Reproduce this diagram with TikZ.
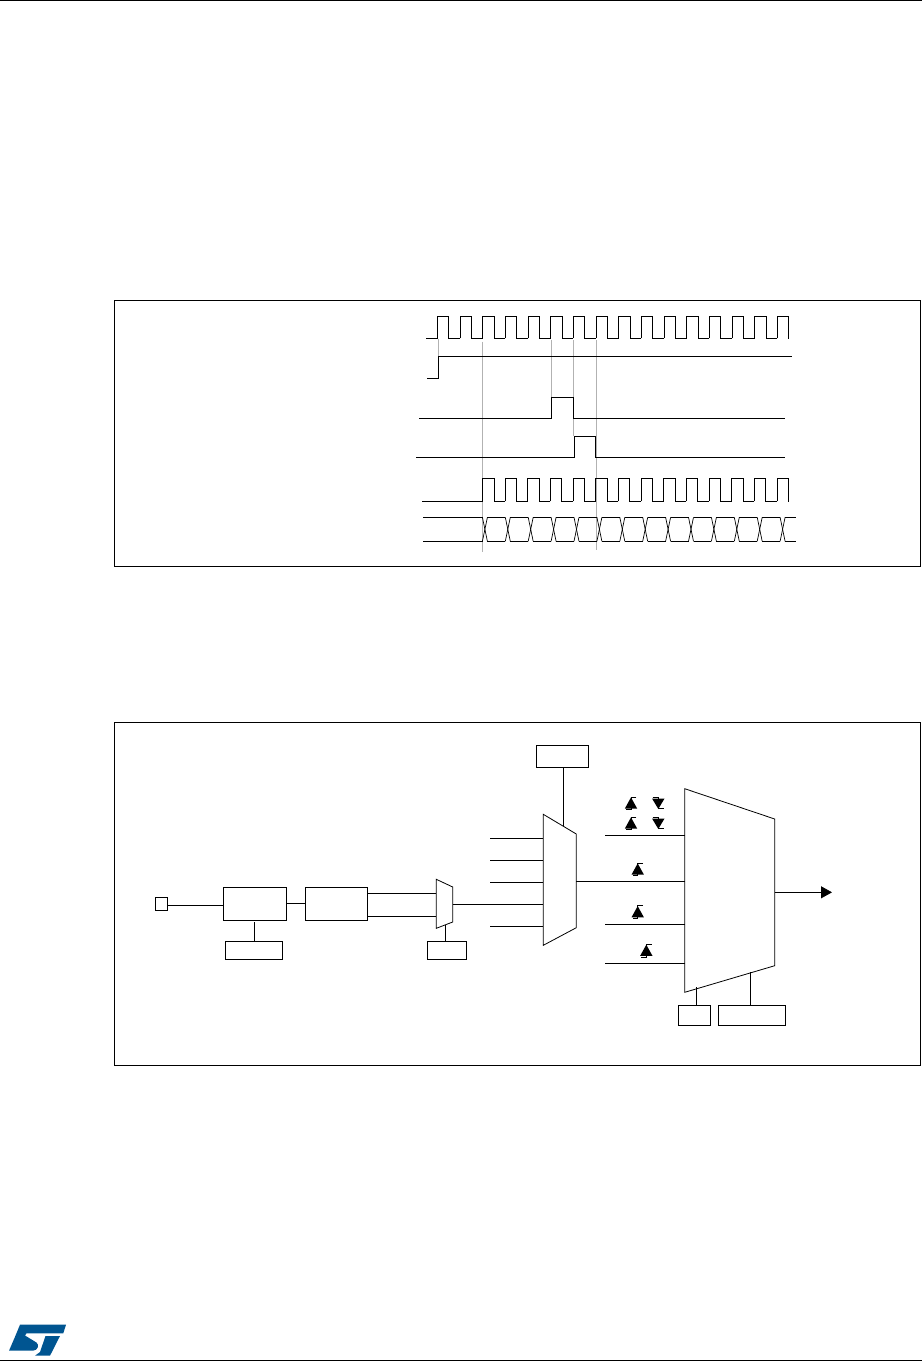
\documentclass[tikz,border=0pt]{standalone}
\usepackage{tikz}
\usetikzlibrary{arrows.meta}
\definecolor{stblue}{RGB}{0,85,145}
\tikzset{
  wire/.style={line width=.8pt,line cap=butt},
  guide/.style={line width=.9pt,draw=black!30},
  xover/.style={line width=.7pt,draw=black},
  frame/.style={line width=.8pt},
  regbox/.style={draw,line width=.8pt,minimum width=#1,minimum height=20pt,inner sep=0pt},
  mux/.style={draw,fill=white,line width=.8pt,line join=miter},
  risemark/.pic={
    \fill (-6.2,5.6) -- (6.2,5.6) -- (0,-5.6) -- cycle;
    \draw[line width=.7pt] (5.3,-6) -- (0,-6) -- (0,6.6) -- (-5,6.6);
  },
  fallmark/.pic={
    \fill (-6.2,-4.4) -- (6.2,-4.4) -- (0,6) -- cycle;
    \draw[line width=.7pt] (-5.7,-5.7) -- (0,-5.7) -- (0,5.5) -- (5.7,5.5);
  }
}
\begin{document}
\begin{tikzpicture}[x=1pt,y=-1pt]
\path[use as bounding box] (0,0) rectangle (922,1361);
% page rules
\draw[line width=1pt] (0,.5) -- (922,.5);
\draw[line width=1pt] (0,1360.5) -- (922,1360.5);
% frames
\draw[frame] (114.3,300) rectangle (920.5,566.3);
\draw[frame] (114.3,722) rectangle (920.5,1065.3);
% grey timing guides
\draw[guide] (438.5,339) -- (438.5,378);
\draw[guide] (482.5,341.5) -- (482.5,551.5);
\draw[guide] (551.5,340) -- (551.5,418);
\draw[guide] (573.5,340) -- (573.5,436);
\draw[guide] (596.5,340) -- (596.5,549.5);
% clock
\draw[wire] (426,338.3) -- (437.5,338.3);
\foreach \k in {0,...,15}{
  \pgfmathsetmacro{\xa}{437.5+22.66*\k}
  \pgfmathsetmacro{\xb}{\xa+11.2}
  \pgfmathsetmacro{\xc}{\xa+22.66}
  \ifnum\k<15
    \draw[wire] (\xa,338.3) -- (\xa,316) -- (\xb,316) -- (\xb,338.3) -- (\xc,338.3);
  \else
    \draw[wire] (\xa,338.3) -- (\xa,316) -- (\xb,316) -- (\xb,339);
  \fi
}
% enable
\draw[wire] (427,378) -- (438,378) -- (438,356.3) -- (791.7,356.3);
% pulses
\draw[wire] (419,418) -- (551.5,418) -- (551.5,397.3) -- (573,397.3) -- (573,418) -- (784.7,418);
\draw[wire] (416,457) -- (574,457) -- (574,436.3) -- (595.5,436.3) -- (595.5,457) -- (784.7,457);
% gated clock
\draw[wire] (422,501.3) -- (482.5,501.3);
\foreach \k in {0,...,13}{
  \pgfmathsetmacro{\xa}{482.5+22.66*\k}
  \pgfmathsetmacro{\xb}{\xa+11.4}
  \pgfmathsetmacro{\xc}{\xa+22.66}
  \ifnum\k<13
    \draw[wire] (\xa,501.3) -- (\xa,478.3) -- (\xb,478.3) -- (\xb,501.3) -- (\xc,501.3);
  \else
    \draw[wire] (\xa,501.3) -- (\xa,478.3) -- (\xb,478.3) -- (\xb,502);
  \fi
}
% data bus
\draw[wire] (423,517.3) -- (482.5,517.3);
\draw[wire] (423,541.3) -- (482.5,541.3);
\foreach \k in {0,...,13}{
  \pgfmathsetmacro{\xa}{482.4+22.9*\k}
  \pgfmathsetmacro{\xb}{\xa+5}
  \pgfmathsetmacro{\xc}{\xa+22.9}
  \draw[xover] (\xa,517.3) -- (\xb,541.3);
  \draw[xover] (\xa,541.3) -- (\xb,517.3);
  \ifnum\k<13
    \draw[wire] (\xb,517.3) -- (\xc,517.3);
    \draw[wire] (\xb,541.3) -- (\xc,541.3);
  \else
    \draw[wire] (\xb,517.3) -- (795.7,517.3);
    \draw[wire] (\xb,541.3) -- (795.7,541.3);
  \fi
}
% input path
\node[draw,line width=.8pt,inner sep=0pt,minimum width=12.4pt,minimum height=13pt] (pin) at (161.5,903.8) {};
\node[regbox=63.2pt,minimum height=33pt] (filt) at (254.9,903.8) {};
\node[regbox=62.4pt,minimum height=33pt] (sync) at (336.4,903.8) {};
\node[regbox=57.4pt,minimum height=18pt] (filtcfg) at (254,950.3) {};
\node[regbox=39.4pt,minimum height=18pt] (polcfg) at (447,950.3) {};
\node[regbox=52.4pt,minimum height=22pt] (sel) at (562.5,756.3) {};
\node[regbox=32.4pt] (slvcfg) at (694.5,1015.3) {};
\node[regbox=67.4pt] (mode) at (752,1015.3) {};
% small mux
\coordinate (pola) at (436.3,879.3);
\coordinate (polb) at (452.7,887);
\coordinate (polc) at (452.7,922);
\coordinate (pold) at (436.3,928.3);
\draw[mux] (pola) -- (polb) -- (polc) -- (pold) -- cycle;
% input mux
\coordinate (tia) at (543.3,814.3);
\coordinate (tib) at (576.3,834);
\coordinate (tic) at (576.3,927.7);
\coordinate (tid) at (543.3,945.3);
\draw[mux] (tia) -- (tib) -- (tic) -- (tid) -- cycle;
% slave mux
\coordinate (sma) at (684.7,788.7);
\coordinate (smb) at (774.7,819);
\coordinate (smc) at (774.7,965.7);
\coordinate (smd) at (684.7,992.3);
\draw[mux] (sma) -- (smb) -- (smc) -- (smd) -- cycle;
% connectors
\coordinate (pinout) at (167.7,905.3);
\draw[wire] (pinout) -- (pinout -| filt.west);
\coordinate (filtout) at (286.5,903.3);
\draw[wire] (filtout) -- (filtout -| sync.west);
\coordinate (synca) at (367.6,893.3);
\coordinate (syncb) at (367.6,916.3);
\draw[wire] (synca) -- (synca -| pola);
\draw[wire] (syncb) -- (syncb -| pola);
\coordinate (polout) at (452.7,904.3);
\draw[wire] (polout) -- (polout -| tia);
\coordinate (filttap) at (254.3,922);
\draw[wire] (filttap) -- (filttap |- filtcfg.north);
\coordinate (poltap) at (445.3,925);
\draw[wire] (poltap) -- (poltap |- polcfg.north);
\coordinate (seltap) at (563.3,826.2);
\draw[wire] (seltap) -- (seltap |- sel.south);
% input mux inputs
\foreach \nm/\yy in {a/838.3,b/860.3,c/882,e/926.3}{
  \coordinate (in\nm) at (490,\yy);
  \draw[wire] (in\nm) -- (in\nm -| tia);
}
% slave mux inputs
\coordinate (tiout) at (576.3,881.3);
\draw[wire] (tiout) -- (tiout -| sma);
\foreach \nm/\yy in {a/835,c/924.3,d/963.3}{
  \coordinate (trg\nm) at (605,\yy);
  \draw[wire] (trg\nm) -- (trg\nm -| sma);
}
\coordinate (smout) at (774.7,892.3);
\coordinate (smend) at (832,892.3);
\draw[wire,-{Triangle[length=11pt,width=12pt]}] (smout) -- (smend);
\coordinate (cfgtap) at (696.3,987.3);
\draw[wire] (cfgtap) -- (cfgtap |- slvcfg.north);
\coordinate (modetap) at (750.3,972.3);
\draw[wire] (modetap) -- (modetap |- mode.north);
% edge marks
\pic at (631,803) {risemark};
\pic at (631,823) {risemark};
\pic at (658.3,803) {fallmark};
\pic at (658.3,823) {fallmark};
\pic at (637.7,869) {risemark};
\pic at (637.7,911.7) {risemark};
\pic at (646.3,950.3) {risemark};
% logo
\fill[stblue] (20,1324.7) -- (66,1324.7) -- (63.3,1333.3) -- (26.5,1333.3) -- (25,1335.5) -- (36.5,1342.5) .. controls (39.5,1344.5) and (38,1350.7) .. (33,1350.7) -- (9,1350.7) -- (14.5,1338) -- cycle;
\fill[stblue] (45.5,1336) -- (60,1336) -- (50,1355.7) -- (35,1355.7) -- (40,1352) -- cycle;
\end{tikzpicture}
\end{document}
